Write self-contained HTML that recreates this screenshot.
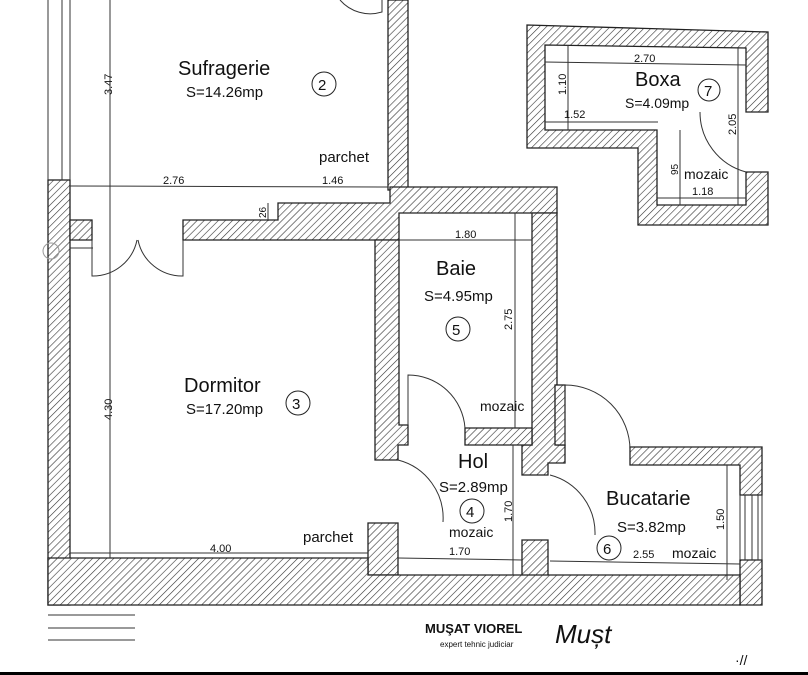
<!DOCTYPE html>
<html><head><meta charset="utf-8"><style>
html,body{margin:0;padding:0;background:#fff}
svg{display:block}
text{font-family:"Liberation Sans",Arial,sans-serif;fill:#111}
</style></head><body>
<svg width="808" height="675" viewBox="0 0 808 675" xmlns="http://www.w3.org/2000/svg">
<defs>
<pattern id="h" width="5" height="5" patternUnits="userSpaceOnUse" patternTransform="rotate(45)">
<rect width="5" height="5" fill="#fff"/><line x1="0" y1="0" x2="0" y2="5" stroke="#333" stroke-width="1.2"/>
</pattern>
</defs>
<rect width="808" height="675" fill="#fff"/>
<g fill="url(#h)" stroke="#222" stroke-width="1.3">
<rect x="48" y="180" width="22" height="425"/>
<rect x="388" y="0" width="20" height="190"/>
<polygon points="70,220 92,220 92,240 70,240"/>
<polygon points="183,220 278,220 278,203 390,203 390,187 557,187 557,213 399,213 399,240 183,240"/>
<polygon points="375,240 399,240 399,425 408,425 408,445 398,445 398,460 375,460"/>
<polygon points="368,523 398,523 398,575 368,575"/>
<polygon points="532,213 557,213 557,445 565,445 565,463 548,463 548,475 522,475 522,445 532,445"/>
<polygon points="465,428 532,428 532,445 465,445"/>
<polygon points="522,540 548,540 548,580 522,580"/>
<rect x="555" y="385" width="10" height="60"/>
<polygon points="630,447 762,447 762,495 740,495 740,465 630,465"/>
<polygon points="740,560 762,560 762,605 740,605"/>
<polygon points="48,558 368,558 368,575 740,575 740,605 48,605"/>
<polygon points="527,25 768,32 768,112 746,112 746,48 545,45 545,130 657,130 657,205 746,205 746,172 768,172 768,225 638,225 638,148 527,148"/>
</g>
<g stroke="#333" stroke-width="1" fill="none">
<line x1="48" y1="0" x2="48" y2="180"/><line x1="62" y1="0" x2="62" y2="180"/><line x1="70" y1="0" x2="70" y2="180"/>
<line x1="110" y1="0" x2="110" y2="558"/>
<line x1="48" y1="615" x2="135" y2="615"/><line x1="48" y1="628" x2="135" y2="628"/><line x1="48" y1="640" x2="135" y2="640"/>
<line x1="745" y1="495" x2="745" y2="560"/><line x1="752" y1="495" x2="752" y2="560"/><line x1="758" y1="495" x2="758" y2="560"/>
<line x1="740" y1="495" x2="740" y2="560"/><line x1="762" y1="495" x2="762" y2="560"/>
<line x1="70" y1="186" x2="388" y2="187"/>
<line x1="93" y1="248" x2="70" y2="248"/>
<line x1="268" y1="203" x2="268" y2="221"/>
<line x1="399" y1="240" x2="532" y2="240"/>
<line x1="515" y1="213" x2="515" y2="428"/>
<line x1="513" y1="445" x2="513" y2="575"/>
<line x1="398" y1="558" x2="522" y2="560"/>
<line x1="70" y1="553" x2="368" y2="553"/>
<line x1="550" y1="561" x2="740" y2="564"/>
<line x1="727" y1="465" x2="727" y2="580"/>
<line x1="545" y1="62" x2="746" y2="65"/>
<line x1="568" y1="45" x2="568" y2="130"/>
<line x1="545" y1="122" x2="658" y2="122"/>
<line x1="680" y1="130" x2="680" y2="205"/>
<line x1="657" y1="198" x2="746" y2="198"/>
<line x1="738" y1="48" x2="738" y2="205"/>
<path d="M340,0 A40,40 0 0 0 382,12 L382,0"/>
<path d="M92,240 L92,276 A45,45 0 0 0 137,240"/>
<path d="M183,240 L183,276 A45,45 0 0 1 138,240"/>
<path d="M408,425 L408,375 A57,57 0 0 1 465,428"/>
<path d="M398,460 A60,60 0 0 1 443,522"/>
<path d="M565,445 L565,385 A65,65 0 0 1 630,450"/>
<path d="M550,475 A60,60 0 0 1 595,535"/>
<path d="M700,112 A62,62 0 0 0 746,172"/>
<circle cx="51" cy="251" r="8" stroke="#999"/>
</g>
<g font-size="18">
<text x="178" y="75" font-size="20">Sufragerie</text>
<text x="186" y="97" font-size="15">S=14.26mp</text>
<circle cx="324" cy="84" r="12" fill="none" stroke="#222"/><text x="318" y="90" font-size="15">2</text>
<text x="319" y="162" font-size="15">parchet</text>
<text x="163" y="184" font-size="11">2.76</text><text x="322" y="184" font-size="11">1.46</text>
<text x="184" y="392" font-size="20">Dormitor</text>
<text x="186" y="414" font-size="15">S=17.20mp</text>
<circle cx="298" cy="403" r="12" fill="none" stroke="#222"/><text x="292" y="409" font-size="15">3</text>
<text x="303" y="542" font-size="15">parchet</text>
<text x="210" y="552" font-size="11">4.00</text>
<text x="436" y="275" font-size="20">Baie</text>
<text x="424" y="301" font-size="15">S=4.95mp</text>
<circle cx="458" cy="329" r="12" fill="none" stroke="#222"/><text x="452" y="335" font-size="15">5</text>
<text x="480" y="411" font-size="14">mozaic</text>
<text x="455" y="238" font-size="11">1.80</text>
<text x="458" y="468" font-size="20">Hol</text>
<text x="439" y="492" font-size="15">S=2.89mp</text>
<circle cx="472" cy="511" r="12" fill="none" stroke="#222"/><text x="466" y="517" font-size="15">4</text>
<text x="449" y="537" font-size="14">mozaic</text>
<text x="449" y="555" font-size="11">1.70</text>
<text x="606" y="505" font-size="20">Bucatarie</text>
<text x="617" y="532" font-size="15">S=3.82mp</text>
<circle cx="609" cy="548" r="12" fill="none" stroke="#222"/><text x="603" y="554" font-size="15">6</text>
<text x="633" y="558" font-size="11">2.55</text><text x="672" y="558" font-size="14">mozaic</text>
<text x="635" y="86" font-size="20">Boxa</text>
<text x="625" y="108" font-size="14">S=4.09mp</text>
<circle cx="709" cy="90" r="11" fill="none" stroke="#222"/><text x="704" y="96" font-size="15">7</text>
<text x="634" y="62" font-size="11">2.70</text><text x="564" y="118" font-size="11">1.52</text>
<text x="684" y="179" font-size="14">mozaic</text><text x="692" y="195" font-size="11">1.18</text>
<text font-size="11" transform="translate(112,95) rotate(-90)">3.47</text>
<text font-size="11" transform="translate(112,420) rotate(-90)">4.30</text>
<text font-size="11" transform="translate(512,330) rotate(-90)">2.75</text>
<text font-size="11" transform="translate(512,522) rotate(-90)">1.70</text>
<text font-size="11" transform="translate(724,530) rotate(-90)">1.50</text>
<text font-size="11" transform="translate(566,95) rotate(-90)">1.10</text>
<text font-size="11" transform="translate(736,135) rotate(-90)">2.05</text>
<text font-size="10" transform="translate(678,175) rotate(-90)">95</text>
<text font-size="10" transform="translate(266,218) rotate(-90)">26</text>
<text x="425" y="633" font-size="13" font-weight="bold" fill="#333">MUŞAT VIOREL</text>
<text x="440" y="647" font-size="8" fill="#555">expert tehnic judiciar</text>
<text x="555" y="643" font-size="26" font-family="Liberation Serif" font-style="italic">Mușt</text>
<text x="735" y="665" font-size="14" fill="#555">·//</text>
</g>
<rect x="0" y="672" width="808" height="3" fill="#000"/>
</svg>
</body></html>
